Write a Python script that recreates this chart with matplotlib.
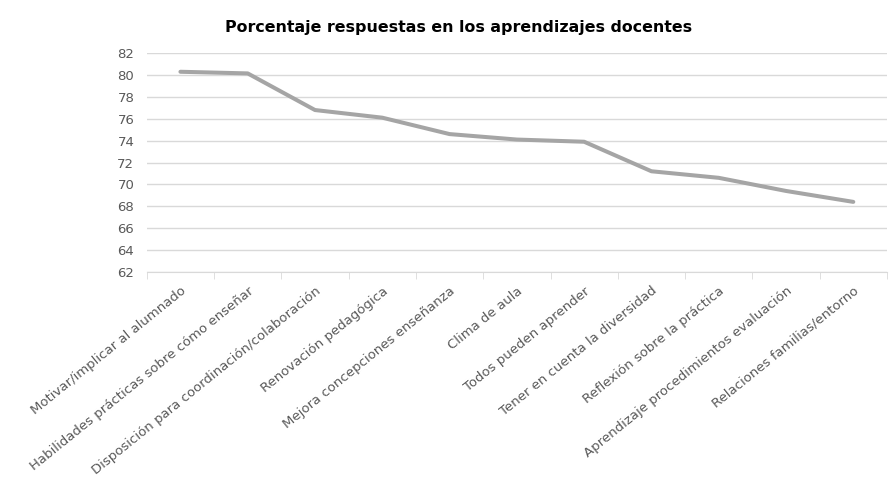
import numpy as np
import matplotlib
matplotlib.use("Agg")
import matplotlib.pyplot as plt
from matplotlib.ticker import FixedLocator

plt.rcParams['font.family'] = ['DejaVu Sans']

categorias = [
    "Motivar/implicar al alumnado",
    "Habilidades prácticas sobre cómo enseñar",
    "Disposición para coordinación/colaboración",
    "Renovación pedagógica",
    "Mejora concepciones enseñanza",
    "Clima de aula",
    "Todos pueden aprender",
    "Tener en cuenta la diversidad",
    "Reflexión sobre la práctica",
    "Aprendizaje procedimientos evaluación",
    "Relaciones familias/entorno",
]
porcentajes = [80.3, 80.15, 76.8, 76.1, 74.6, 74.1, 73.9, 71.2, 70.6, 69.4, 68.4]
y_ticks = [62, 64, 66, 68, 70, 72, 74, 76, 78, 80, 82]

fig = plt.figure(figsize=(8.95, 4.97), dpi=100)
ax = fig.add_axes([0.164, 0.453, 0.827, 0.44])

x = np.arange(len(categorias))
ax.plot(x, porcentajes, color='#a5a5a5', lw=2.9, solid_capstyle='round',
        solid_joinstyle='round', zorder=3)

ax.set_xlim(-0.5, len(categorias) - 0.5)
ax.set_ylim(62, 82)
ax.set_yticks(y_ticks)
ax.yaxis.grid(True, color='#d9d9d9', lw=1)
ax.set_axisbelow(True)

ax.set_xticks(x)
ax.set_xticklabels(categorias, rotation=39, ha='right', rotation_mode='anchor',
                   fontsize=9.5, color='#595959')
ax.xaxis.set_minor_locator(FixedLocator(np.arange(-0.5, len(categorias), 1)))
ax.tick_params(axis='x', which='major', length=0, pad=9)
ax.tick_params(axis='x', which='minor', length=5, color='#d9d9d9')
ax.tick_params(axis='y', length=0, labelsize=9.5, labelcolor='#595959', pad=9)

for s in ['top', 'right', 'left']:
    ax.spines[s].set_visible(False)
ax.spines['bottom'].set_color('#d9d9d9')

fig.text(0.512, 0.944, "Porcentaje respuestas en los aprendizajes docentes",
         ha='center', va='center', fontsize=11.4, fontweight='bold', color='black')

fig.savefig("out.png", dpi=100, facecolor='white')
